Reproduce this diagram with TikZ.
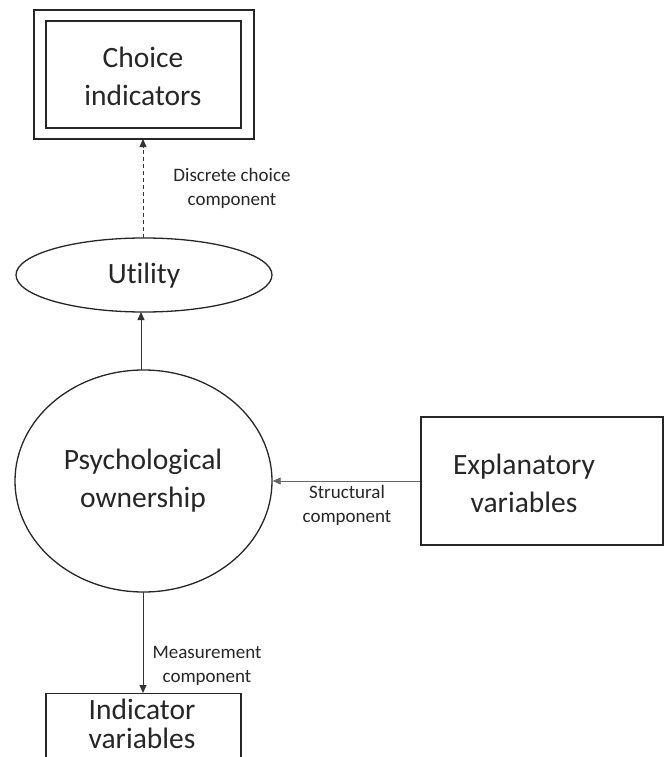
\documentclass[tikz,border=0pt]{standalone}
\usepackage{fontspec}
\setmainfont{Carlito}[Ligatures=NoCommon]
\usetikzlibrary{shapes.geometric,arrows.meta}
\begin{document}
\begin{tikzpicture}[x=1pt,y=-1pt,
  bigtext/.style={font=\fontsize{29.5}{38}\selectfont,align=center,text=black!85},
  smalltext/.style={font=\fontsize{19}{24}\selectfont,align=center,text=black!85},
  shapeline/.style={draw=black!85,line width=1.3pt},
  conn/.style={draw=black!80,line width=0.8pt,-{Triangle[length=8pt,width=7pt]}}]
\useasboundingbox (0,0) rectangle (669,757);
% Choice indicators (double box)
\node[draw=black!85,line width=1.3pt,minimum width=220pt,minimum height=129pt,inner sep=0pt] (choiceouter) at (144,74.5) {};
\node[shapeline,minimum width=195pt,minimum height=107pt,inner sep=0pt] (choice) at (143.5,74.5) {};
\node[bigtext] (choicetext) at (143,76) {Choice\\indicators};
% Utility
\node[shapeline,ellipse,minimum width=256pt,minimum height=74pt,inner sep=0pt] (util) at (144,275) {};
\node[bigtext] (utiltext) at (144,276) {Utility};
% Psychological ownership
\node[shapeline,ellipse,minimum width=257pt,minimum height=222pt,inner sep=0pt] (psy) at (143.5,481) {};
\node[bigtext] (psytext) at (143,481) {Psychological\\ownership};
% Explanatory variables
\node[shapeline,minimum width=242pt,minimum height=128pt,inner sep=0pt] (expl) at (542,481) {};
\node[bigtext] (expltext) at (524,483) {Explanatory\\variables};
% Indicator variables (cut at bottom)
\begin{scope}
\clip (0,0) rectangle (669,757);
\node[shapeline,minimum width=195pt,minimum height=100pt,inner sep=0pt,anchor=north] (indic) at (143.5,693) {};
\end{scope}
\node[bigtext,font=\fontsize{29.5}{28.5}\selectfont] (indictext) at (142,724) {Indicator\\variables};
% connectors
\coordinate (psytop) at (141,370);
\coordinate (utilbot) at (141,312);
\coordinate (utiltop) at (143,238);
\coordinate (choicebot) at (143,139);
\draw[conn,dashed,dash pattern=on 4pt off 3pt] (utiltop) -- (choicebot);
\draw[conn] (psytop) -- (utilbot);
\draw[conn,draw=black!60] (expl.west) -- (psy.east);
\coordinate (psybot) at (143,592);
\coordinate (indictop) at (143,693);
\draw[conn] (psybot) -- (indictop);
% labels
\node[smalltext] (lab1) at (232,188.5) {Discrete choice\\component};
\node[smalltext] (lab2) at (347,505.5) {Structural\\component};
\node[smalltext] (lab3) at (207,665.5) {Measurement\\component};
\end{tikzpicture}
\end{document}
